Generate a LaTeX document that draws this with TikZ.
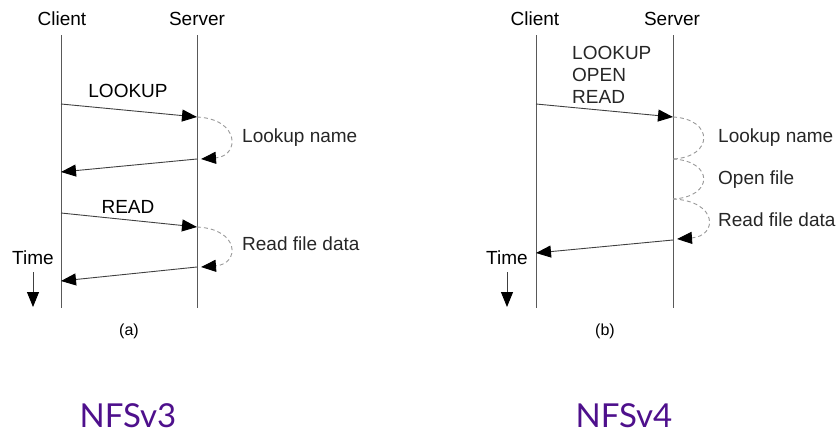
\documentclass[tikz,border=0pt]{standalone}
\usepackage{fontspec}
\setmainfont{Liberation Sans}
\newfontfamily\titlefont{Lato}
\usetikzlibrary{arrows.meta}
\definecolor{nfspurple}{RGB}{78,16,140}

\begin{document}
\begin{tikzpicture}[x=1pt,y=-1pt,>={Triangle[length=15pt,width=12pt,black]},font=\fontsize{19}{22}\selectfont]
	\tikzstyle{life}=[draw=black!65,line width=0.9pt]
	\tikzstyle{msg}=[->,draw=black!75,line width=0.9pt]
	\tikzstyle{work}=[draw=black!40,dash pattern=on 4pt off 3pt,line width=0.9pt]
	\tikzstyle{worktip}=[work,->]
	\tikzstyle{note}=[anchor=west,text=black!85,inner sep=0pt]
	\tikzstyle{title}=[anchor=base,inner sep=0pt,font=\titlefont\fontsize{33}{36}\selectfont,text=nfspurple]

	\useasboundingbox (0,0) rectangle (839,434);

	% (a) NFSv3
	\node (ca) at (62,19) {Client};
	\node (sa) at (197,19) {Server};
	\coordinate (ca top) at (61,35);   \coordinate (ca bot) at (61,308);
	\coordinate (sa top) at (197,35);  \coordinate (sa bot) at (197,308);
	\draw[life] (ca top) -- (ca bot);
	\draw[life] (sa top) -- (sa bot);

	\coordinate (ca1) at (61,104);  \coordinate (sa1) at (197,117);
	\coordinate (sa2) at (197,159); \coordinate (sa2t) at (201,159);
	\coordinate (ca2) at (61,172);
	\coordinate (ca3) at (61,213);  \coordinate (sa3) at (197,227);
	\coordinate (sa4) at (197,267); \coordinate (sa4t) at (201,267);
	\coordinate (ca4) at (61,281);

	\node (lookup a) at (128,91) {LOOKUP};
	\draw[msg] (ca1) -- (sa1);
	\draw[worktip] (sa1) .. controls (240,119) and (240,156) .. (sa2t);
	\node[note] (lname a) at (242,138) {Lookup name};
	\draw[msg] (sa2) -- (ca2);

	\node (read a) at (128,207) {READ};
	\draw[msg] (ca3) -- (sa3);
	\draw[worktip] (sa3) .. controls (240,229) and (240,264) .. (sa4t);
	\node[note] (rdata a) at (242,244) {Read file data};
	\draw[msg] (sa4) -- (ca4);

	\node (time a) at (33,258) {Time};
	\coordinate (ta1) at (33,272); \coordinate (ta2) at (33,307);
	\draw[msg] (ta1) -- (ta2);
	\node[font=\fontsize{16}{18}\selectfont] (cap a) at (129,331) {(a)};
	\node[title] (nfs3) at (128,427) {NFSv3};

	% (b) NFSv4
	\node (cb) at (535,19) {Client};
	\node (sb) at (672,19) {Server};
	\coordinate (cb top) at (536,35);  \coordinate (cb bot) at (536,308);
	\coordinate (sb top) at (673,35);  \coordinate (sb bot) at (673,308);
	\draw[life] (cb top) -- (cb bot);
	\draw[life] (sb top) -- (sb bot);

	\coordinate (cb1) at (536,104); \coordinate (sb1) at (673,117);
	\coordinate (sb2) at (673,159); \coordinate (sb3) at (673,199);
	\coordinate (sb4) at (673,240); \coordinate (sb4t) at (677,239);
	\coordinate (cb2) at (536,253);

	\node[note,align=left] (ops b) at (572,75) {LOOKUP\\OPEN\\READ};
	\draw[msg] (cb1) -- (sb1);
	\draw[work] (sb1) .. controls (714,119) and (714,157) .. (sb2);
	\draw[work] (sb2) .. controls (714,161) and (714,197) .. (sb3);
	\draw[worktip] (sb3) .. controls (718,201) and (718,236) .. (sb4t);
	\node[note] (lname b) at (718,138) {Lookup name};
	\node[note] (open b) at (718,180) {Open file};
	\node[note] (rdata b) at (718,220) {Read file data};
	\draw[msg] (sb4) -- (cb2);

	\node (time b) at (507,258) {Time};
	\coordinate (tb1) at (507,272); \coordinate (tb2) at (507,307);
	\draw[msg] (tb1) -- (tb2);
	\node[font=\fontsize{16}{18}\selectfont] (cap b) at (605,331) {(b)};
	\node[title] (nfs4) at (624,427) {NFSv4};
\end{tikzpicture}
\end{document}
